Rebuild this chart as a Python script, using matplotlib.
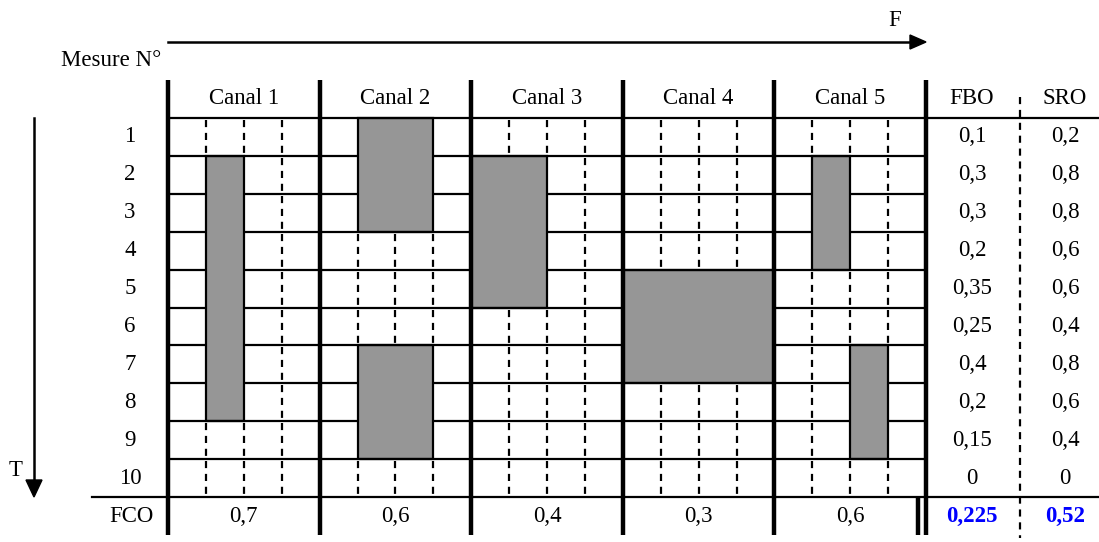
import matplotlib
matplotlib.use("Agg")
import matplotlib.pyplot as plt
from matplotlib.patches import Rectangle, FancyArrow
import numpy as np

# ---------------- data ----------------
channels = ["Canal 1", "Canal 2", "Canal 3", "Canal 4", "Canal 5"]
row_labels = ["1", "2", "3", "4", "5", "6", "7", "8", "9", "10"]
fbo_values = ["0,1", "0,3", "0,3", "0,2", "0,35", "0,25", "0,4", "0,2", "0,15", "0"]
sro_values = ["0,2", "0,8", "0,8", "0,6", "0,6", "0,4", "0,8", "0,6", "0,4", "0"]
fco_values = ["0,7", "0,6", "0,4", "0,3", "0,6"]
fbo_mean = "0,225"
sro_mean = "0,52"

# occupied blocks (channel, first sub-band, number of sub-bands, first row, last row)
block_channel = [1, 2, 2, 3, 4, 5, 5]
block_subband_start = [2, 2, 2, 1, 1, 2, 3]
block_subband_count = [1, 2, 2, 2, 4, 1, 1]
block_row_first = [2, 1, 7, 2, 5, 2, 7]
block_row_last = [8, 3, 9, 5, 7, 4, 9]

# ---------------- layout (pixels) ----------------
W, H = 1099, 542
X0, Y0 = 168.0, 118.0
CELL = 37.9
NSUB = 4
NCH = len(channels)
NROW = len(row_labels)
XEND = X0 + CELL * NSUB * NCH
YEND = Y0 + CELL * NROW
X_FBO_SRO = 1020
FS = 16.5
FONT = "Liberation Serif"

def sx(u):
    return X0 + CELL * u

def sy(v):
    return Y0 + CELL * v

fig = plt.figure(figsize=(W / 100, H / 100), dpi=100)
ax = fig.add_axes([0, 0, 1, 1])
ax.set_xlim(0, W)
ax.set_ylim(H, 0)
ax.axis("off")

# occupancy grid
occ = np.zeros((NROW, NSUB * NCH), dtype=bool)
for ch, s0, ns, r0, r1 in zip(block_channel, block_subband_start, block_subband_count,
                              block_row_first, block_row_last):
    g0 = (ch - 1) * NSUB + (s0 - 1)
    occ[r0 - 1:r1, g0:g0 + ns] = True

grey = "#969696"
lw_thin = 1.6
lw_thick = 3.2

# grey blocks
for ch, s0, ns, r0, r1 in zip(block_channel, block_subband_start, block_subband_count,
                              block_row_first, block_row_last):
    g0 = (ch - 1) * NSUB + (s0 - 1)
    x = sx(g0)
    y = sy(r0 - 1)
    ax.add_patch(Rectangle((x, y), CELL * ns, CELL * (r1 - r0 + 1),
                           facecolor=grey, edgecolor="black", lw=lw_thin, zorder=2))

# horizontal row separators
for b in range(1, NROW):
    for s in range(NSUB * NCH):
        if occ[b - 1, s] and occ[b, s]:
            continue
        ax.plot([sx(s), sx(s + 1)], [sy(b), sy(b)], color="black", lw=lw_thin,
                solid_capstyle="butt", zorder=3)

# dashed sub-band separators
for r in range(NROW):
    for s in range(1, NSUB * NCH):
        if s % NSUB == 0:
            continue
        if occ[r, s - 1] or occ[r, s]:
            continue
        ax.plot([sx(s), sx(s)], [sy(r) + 2, sy(r + 1)], color="black", lw=1.6,
                linestyle=(0, (3.2, 2.6)), dash_capstyle="butt", zorder=3)

# header line and FCO line
ax.plot([X0, W], [Y0, Y0], color="black", lw=lw_thin, zorder=3)
ax.plot([92, W], [YEND, YEND], color="black", lw=lw_thin, zorder=3)

# thick channel boundaries
for i in range(NCH + 1):
    ax.plot([sx(i * NSUB), sx(i * NSUB)], [80, 535], color="black", lw=lw_thick,
            solid_capstyle="butt", zorder=4)
# double line in FCO row
ax.plot([XEND - 8, XEND - 8], [YEND, 535], color="black", lw=lw_thick,
        solid_capstyle="butt", zorder=4)

# FBO / SRO dashed separator
ax.plot([X_FBO_SRO, X_FBO_SRO], [97, 538], color="black", lw=1.6,
        linestyle=(0, (3.2, 2.6)), dash_capstyle="butt", zorder=3)

# arrows
ax.plot([X0, 912], [42, 42], color="black", lw=1.8, zorder=3)
ax.add_patch(plt.Polygon([[910, 35], [926, 42], [910, 49]], closed=True,
                         color="black", zorder=4))
ax.plot([34, 34], [Y0, 482], color="black", lw=1.8, zorder=3)
ax.add_patch(plt.Polygon([[26, 480], [42, 480], [34, 497]], closed=True,
                         color="black", zorder=4))

txt = dict(fontsize=FS, family=FONT, ha="center", va="center", color="black")
ax.text(895, 20, "F", **txt)
ax.text(16, 470, "T", **txt)
ax.text(111, 60, "Mesure N°", **txt)

for i, name in enumerate(channels):
    ax.text(sx(i * NSUB + NSUB / 2), 98, name, **txt)
    ax.text(sx(i * NSUB + NSUB / 2), 516, fco_values[i], **txt)

ax.text(972, 98, "FBO", **txt)
ax.text(1065, 98, "SRO", **txt)

for r in range(NROW):
    yc = sy(r + 0.5)
    ax.text(130, yc, row_labels[r], **txt)
    ax.text(972, yc, fbo_values[r], **txt)
    ax.text(1065, yc, sro_values[r], **txt)

ax.text(131, 516, "FCO", **txt)
blue = dict(txt, color="#0000ff", fontweight="bold")
ax.text(972, 516, fbo_mean, **blue)
ax.text(1065, 516, sro_mean, **blue)

fig.savefig("out.png", dpi=100, facecolor="white")
